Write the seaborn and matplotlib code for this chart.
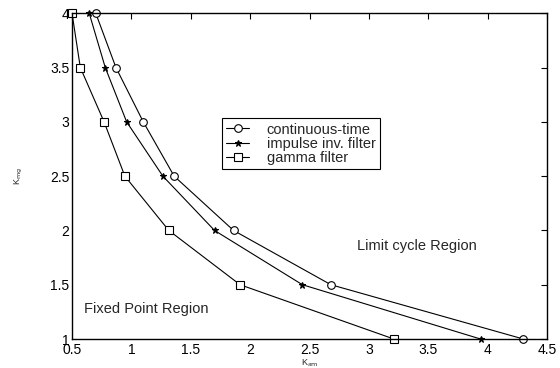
import pandas as pd
import matplotlib
matplotlib.use("Agg")
import matplotlib.pyplot as plt
import seaborn as sns

# Datos
k_mg = [4, 3.5, 3, 2.5, 2, 1.5, 1]
k_am_continuous = [0.70, 0.87, 1.10, 1.36, 1.86, 2.68, 4.30]
k_am_impulse = [0.645, 0.78, 0.96, 1.265, 1.70, 2.44, 3.94]
k_am_gamma = [0.50, 0.57, 0.77, 0.945, 1.315, 1.915, 3.21]
series_names = ["continuous-time", "impulse inv. filter", "gamma filter"]

df = pd.concat([
    pd.DataFrame({"k_am": k_am_continuous, "k_mg": k_mg, "serie": series_names[0]}),
    pd.DataFrame({"k_am": k_am_impulse, "k_mg": k_mg, "serie": series_names[1]}),
    pd.DataFrame({"k_am": k_am_gamma, "k_mg": k_mg, "serie": series_names[2]}),
])

sns.set_style("white")
plt.rcParams["font.family"] = ["Liberation Sans", "DejaVu Sans"]

fig = plt.figure(figsize=(5.6, 3.68), dpi=100)
ax = fig.add_axes([0.1286, 0.0788, 0.8482, 0.8851])

ax = sns.lineplot(
    data=df, x="k_am", y="k_mg", hue="serie", style="serie",
    palette={n: "black" for n in series_names},
    markers={series_names[0]: "o", series_names[1]: "*", series_names[2]: "s"},
    dashes=False, sort=False, estimator=None, ax=ax,
    linewidth=0.8, markersize=5.5, markerfacecolor="white", markeredgecolor="black",
    markeredgewidth=0.8, legend=True, clip_on=False,
)

# estrella rellena y mas chica
for line in ax.lines:
    if line.get_marker() == "*":
        line.set_markerfacecolor("black")
        line.set_markersize(4.5)

ax.set_xlim(0.5, 4.5)
ax.set_ylim(1, 4)
ax.set_xticks([0.5, 1, 1.5, 2, 2.5, 3, 3.5, 4, 4.5])
ax.set_xticklabels(["0.5", "1", "1.5", "2", "2.5", "3", "3.5", "4", "4.5"])
ax.set_yticks([1, 1.5, 2, 2.5, 3, 3.5, 4])
ax.set_yticklabels(["1", "1.5", "2", "2.5", "3", "3.5", "4"])
ax.tick_params(direction="in", length=4, width=0.8, labelsize=10, top=True, right=True,
               pad=2, colors="black")
ax.tick_params(axis="x", pad=3)
for s in ax.spines.values():
    s.set_visible(True)
    s.set_color("black")
    s.set_linewidth(1.0)

ax.set_xlabel("K$_{\\rm am}$", fontsize=6.5, labelpad=0)
ax.set_ylabel("K$_{\\rm mg}$", fontsize=6.5, labelpad=18)

ax.text(2.9, 1.86, "Limit cycle Region", fontsize=10.5, va="center", ha="left")
ax.text(0.6, 1.28, "Fixed Point Region", fontsize=10.5, va="center", ha="left")

handles, labels = ax.get_legend_handles_labels()
leg = ax.legend(handles, labels, loc="upper left", bbox_to_anchor=(0.315, 0.678),
                fontsize=10.5, frameon=True, fancybox=False, framealpha=1,
                edgecolor="black", handlelength=1.6, handletextpad=1.2,
                borderpad=0.3, labelspacing=0.02, borderaxespad=0)
leg.get_frame().set_linewidth(0.8)

fig.savefig("out.png", dpi=100)
